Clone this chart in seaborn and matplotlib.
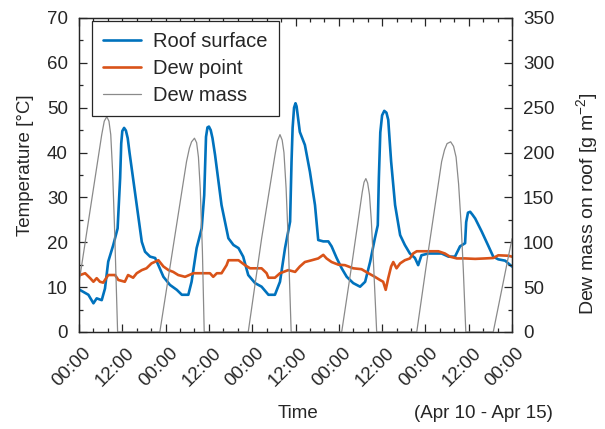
import matplotlib
matplotlib.use("Agg")
import matplotlib.pyplot as plt
import seaborn as sns
from matplotlib.ticker import MultipleLocator, FixedLocator
from matplotlib.transforms import ScaledTranslation

# Hours since Apr 10 00:00
roof_hours = [0.0, 2.6, 4.0, 4.9, 6.3, 7.2, 8.1, 9.5, 10.7, 11.4, 11.7, 12.0, 12.5, 13.0,
              13.5, 14.0, 14.6, 16.0, 17.4, 18.3, 19.7, 21.1, 22.0, 23.4, 25.2, 27.1,
              28.5, 30.3, 31.2, 32.6, 34.0, 34.7, 35.2, 35.6, 36.0, 36.5, 37.0, 37.7,
              39.5, 41.4, 42.8, 44.2, 45.5, 46.9, 48.8, 50.6, 52.5, 54.3, 55.7, 57.1,
              58.5, 58.9, 59.2, 59.6, 60.0, 60.3, 60.6, 61.2, 62.6, 64.0, 65.4, 66.3,
              67.7, 69.1, 70.0, 71.4, 72.8, 74.2, 76.0, 77.9, 79.3, 80.7, 82.0, 82.8,
              83.1, 83.5, 84.0, 84.6, 85.2, 85.7, 86.5, 87.6, 89.0, 90.3, 91.7, 93.1,
              94.0, 94.9, 96.8, 100.5, 102.4, 104.2, 105.6, 107.0, 107.3, 107.8, 108.4,
              109.0, 109.8, 111.6, 113.5, 114.8, 116.2, 118.1, 120.0]
roof_temp = [9.5, 8.3, 6.4, 7.5, 7.1, 9.7, 15.7, 19.4, 23.1, 34.3, 42.0, 44.8, 45.5, 44.9,
             43.2, 40.0, 36.5, 28.3, 20.1, 17.9, 16.8, 16.5, 14.9, 12.3, 10.5, 9.4,
             8.3, 8.3, 11.2, 18.7, 23.1, 30.5, 43.5, 45.6, 45.8, 45.0, 43.2, 39.5,
             28.3, 20.9, 19.4, 18.7, 16.8, 12.7, 10.9, 10.1, 8.3, 8.3, 11.2, 18.7,
             24.6, 38.0, 45.5, 50.0, 51.0, 50.3, 48.4, 44.6, 41.7, 35.7, 28.3, 20.5,
             20.2, 20.2, 19.1, 16.5, 14.2, 12.3, 10.9, 10.1, 11.2, 15.7, 20.9, 23.8,
             34.3, 44.5, 48.3, 49.3, 48.9, 47.3, 38.0, 28.3, 21.6, 19.4, 17.5, 16.5,
             14.9, 17.1, 17.5, 17.5, 16.8, 16.8, 19.1, 19.8, 24.5, 26.6, 26.8,
             26.2, 25.3, 22.4, 19.1, 16.8, 16.2, 15.9, 14.6]

dew_hours = [0.0, 1.7, 3.1, 4.0, 4.9, 5.8, 6.7, 8.1, 10.0, 10.9, 12.7, 13.6, 15.0, 16.0,
             17.4, 18.7, 20.1, 22.0, 23.4, 24.8, 26.1, 27.5, 29.4, 31.7, 34.0, 36.3,
             37.2, 38.2, 39.5, 40.9, 41.4, 44.2, 46.0, 47.4, 50.6, 52.0, 52.5, 54.3,
             55.7, 58.0, 59.9, 61.2, 62.6, 64.5, 66.3, 67.7, 68.6, 70.0, 71.9, 73.7,
             76.0, 78.3, 80.2, 82.0, 83.4, 84.3, 85.0, 85.7, 86.5, 87.1, 88.0, 89.0,
             90.3, 91.7, 92.6, 93.6, 96.8, 99.6, 101.4, 102.8, 104.7, 107.0, 109.8,
             112.5, 114.8, 116.2, 119.0, 120.0]
dew_temp = [12.6, 13.1, 12.0, 11.2, 12.0, 11.2, 11.0, 12.7, 12.7, 11.6, 11.2, 12.7, 12.1, 13.1,
            13.8, 14.2, 15.3, 16.0, 14.6, 13.8, 13.4, 12.7, 12.3, 13.1, 13.1, 13.1,
            12.3, 13.1, 13.1, 14.9, 16.0, 16.0, 14.9, 14.2, 14.2, 13.1, 12.1, 12.1,
            13.1, 13.8, 13.4, 14.6, 15.6, 16.0, 16.4, 17.2, 16.4, 15.6, 15.0, 14.9,
            14.2, 14.0, 13.1, 12.3, 11.6, 11.2, 9.4, 12.0, 14.6, 15.6, 14.2, 15.3,
            16.0, 16.4, 17.5, 18.0, 18.0, 18.0, 17.5, 16.8, 16.4, 16.4, 16.3,
            16.4, 16.5, 17.1, 17.0, 16.8]

mass_hours = [0.0, 6.3, 7.0, 7.7, 8.3, 8.8, 9.3, 9.9, 10.7,
              22.4, 26.6, 29.8, 30.6, 31.2, 32.0, 32.6, 33.1, 33.6, 34.2, 34.7,
              46.9, 50.6, 54.3, 55.0, 55.7, 56.3, 56.8, 57.4, 58.0, 58.8,
              72.8, 75.6, 78.5, 79.0, 79.5, 80.0, 80.5, 81.0, 81.6, 82.5,
              93.6, 96.8, 100.5, 101.3, 102.0, 103.0, 103.8, 104.5, 105.2, 105.9, 106.5, 107.2,
              114.8, 120.0]
mass_values = [55, 220, 235, 240, 235, 220, 180, 110, 0,
               0, 108, 190, 205, 212, 216, 211, 195, 160, 90, 0,
               0, 104, 197, 213, 220, 214, 200, 160, 100, 0,
               0, 75, 156, 167, 171, 166, 153, 125, 78, 0,
               0, 90, 190, 203, 210, 212, 207, 195, 165, 120, 70, 0,
               0, 104]

tick_hours = [0, 12, 24, 36, 48, 60, 72, 84, 96, 108, 120]
tick_labels = ["00:00", "12:00", "00:00", "12:00", "00:00", "12:00",
               "00:00", "12:00", "00:00", "12:00", "00:00"]
series_names = ["Roof surface", "Dew point", "Dew mass"]

BLUE = "#0072BD"
ORANGE = "#D95319"
GRAY = "#8a8a8a"
INK = "#262626"

sns.set_theme(style="ticks")
plt.rcParams["font.family"] = ["Liberation Sans", "DejaVu Sans"]
plt.rcParams["mathtext.fontset"] = "custom"
plt.rcParams["mathtext.rm"] = "Liberation Sans"
plt.rcParams["mathtext.it"] = "Liberation Sans:italic"
plt.rcParams["mathtext.bf"] = "Liberation Sans:bold"
plt.rcParams["lines.solid_joinstyle"] = "round"

W, H = 605, 429
fig = plt.figure(figsize=(W / 100, H / 100), dpi=100)
ax = fig.add_axes([79 / W, 97 / H, 433 / W, 314 / H])
ax2 = ax.twinx()

sns.lineplot(x=roof_hours, y=roof_temp, ax=ax, color=BLUE, linewidth=1.9,
             sort=False, estimator=None, legend=False)
sns.lineplot(x=dew_hours, y=dew_temp, ax=ax, color=ORANGE, linewidth=1.9,
             sort=False, estimator=None, legend=False)
sns.lineplot(x=mass_hours, y=mass_values, ax=ax2, color=GRAY, linewidth=0.9,
             sort=False, estimator=None, legend=False)

ax.set_xlim(0, 120)
ax.set_ylim(0, 70)
ax2.set_ylim(0, 350)

ax.xaxis.set_major_locator(FixedLocator(tick_hours))
ax.set_xticklabels(tick_labels, rotation=45, ha="center")
ax.xaxis.set_minor_locator(MultipleLocator(4))
ax.yaxis.set_major_locator(MultipleLocator(10))
ax.yaxis.set_minor_locator(MultipleLocator(5))
ax2.yaxis.set_major_locator(MultipleLocator(50))
ax2.yaxis.set_minor_locator(MultipleLocator(25))

for a in (ax, ax2):
    for s in a.spines.values():
        s.set_color(INK)
        s.set_linewidth(0.9)

ax.tick_params(axis="x", which="both", direction="in", top=True, bottom=True,
               colors=INK, labelsize=13.5, pad=9, width=0.9)
ax.tick_params(axis="y", which="both", direction="in", left=True, right=False,
               colors=INK, labelsize=13.5, pad=8, width=0.9)
ax2.tick_params(axis="y", which="both", direction="in", left=False, right=True,
                colors=INK, labelsize=13.5, pad=8, width=0.9)
for a in (ax, ax2):
    a.tick_params(which="major", length=6)
    a.tick_params(which="minor", length=3)

# rotated hour labels sit slightly left of their ticks
shift = ScaledTranslation(-7 / 100, 0, fig.dpi_scale_trans)
for lbl in ax.get_xticklabels():
    lbl.set_transform(lbl.get_transform() + shift)

ax.set_ylabel("Temperature [°C]", fontsize=13.5, color=INK)
ax.yaxis.set_label_coords(-0.105, 0.53)
ax2.set_ylabel("Dew mass on roof [g m$^{-2}$]", fontsize=14, color=INK)
ax2.yaxis.set_label_coords(1.143, 0.41)
ax.set_xlabel("Time", fontsize=13.5, color=INK)
ax.xaxis.label.set_verticalalignment("baseline")
ax.xaxis.set_label_coords(0.506, -0.274)
ax.text(553 / W, (H - 418) / H, "(Apr 10 - Apr 15)", transform=fig.transFigure,
        ha="right", va="baseline", fontsize=13.5, color=INK)

handles = ax.get_lines()[:2] + ax2.get_lines()[:1]
leg = ax2.legend(handles, series_names, loc="upper left",
                 bbox_to_anchor=(13 / 433, (332 - 21) / 314), borderaxespad=0,
                 frameon=True, fancybox=False, framealpha=1, edgecolor=INK,
                 fontsize=14.5, handlelength=1.9, handletextpad=0.6,
                 labelspacing=0.4, borderpad=0.55)
leg.get_frame().set_linewidth(0.9)
for t in leg.get_texts():
    t.set_color(INK)

fig.savefig("out.png", dpi=100)
